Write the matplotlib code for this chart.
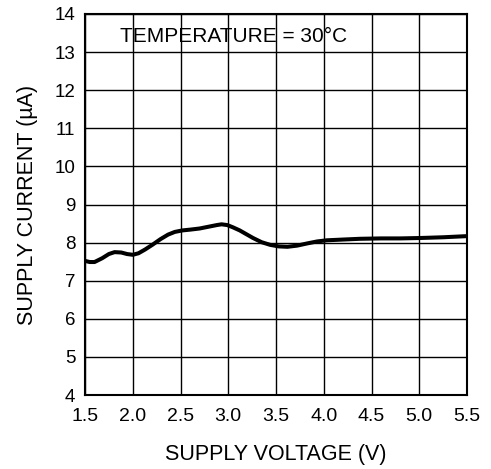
import matplotlib
matplotlib.use("Agg")
import matplotlib.pyplot as plt

plt.rcParams['font.family'] = ['Liberation Sans', 'DejaVu Sans']

# supply voltage (V) and supply current (uA)
voltage = [1.50, 1.55, 1.60, 1.68, 1.75, 1.81, 1.88, 1.94, 2.00, 2.06,
           2.13, 2.21, 2.29, 2.37, 2.44, 2.52, 2.60, 2.70, 2.80, 2.88,
           2.93, 2.99, 3.05, 3.12, 3.19, 3.26, 3.35, 3.44, 3.53, 3.62,
           3.72, 3.83, 3.93, 4.03, 4.20, 4.38, 4.60, 4.80, 5.00, 5.25,
           5.50]
current = [7.52, 7.49, 7.49, 7.59, 7.70, 7.75, 7.74, 7.70, 7.68, 7.72,
           7.82, 7.95, 8.09, 8.21, 8.28, 8.32, 8.34, 8.37, 8.42, 8.46,
           8.48, 8.46, 8.40, 8.32, 8.22, 8.12, 8.01, 7.94, 7.90, 7.89,
           7.92, 7.98, 8.03, 8.06, 8.08, 8.10, 8.11, 8.11, 8.12, 8.14,
           8.17]

x_ticks = [1.5, 2.0, 2.5, 3.0, 3.5, 4.0, 4.5, 5.0, 5.5]
y_ticks = list(range(4, 15))

fig = plt.figure(figsize=(4.91, 4.69), dpi=100)
ax = fig.add_axes([85 / 491, 1 - 395 / 469, 382 / 491, 381 / 469])

ax.plot(voltage, current, color="black", linewidth=2.9,
        solid_capstyle="round", solid_joinstyle="round")

ax.set_xlim(1.5, 5.5)
ax.set_ylim(4, 14)
ax.set_xticks(x_ticks)
ax.set_xticklabels(["%.1f" % v for v in x_ticks])
ax.set_yticks(y_ticks)
ax.tick_params(axis="x", length=0, labelsize=14, pad=9)
ax.tick_params(axis="y", length=0, labelsize=13.5, pad=7)
ax.grid(True, color="black", linewidth=1.0)
for s in ax.spines.values():
    s.set_linewidth(1.5)

ax.text(1.87, 13.42, "TEMPERATURE = 30°C", fontsize=15, va="center", ha="left")

ax.set_xlabel("SUPPLY VOLTAGE (V)", fontsize=15.5, labelpad=14)
ax.set_ylabel("SUPPLY CURRENT (µA)", fontsize=15.5, labelpad=12)

plt.savefig("out.png", dpi=100)
